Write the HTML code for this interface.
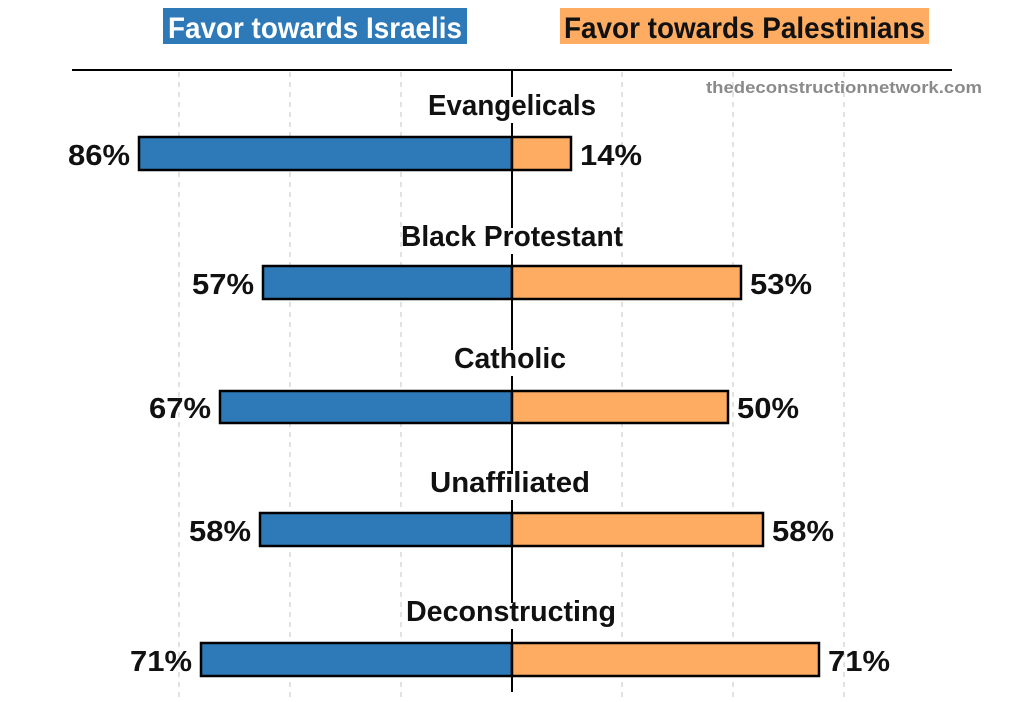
<!DOCTYPE html>
<html><head><meta charset="utf-8"><style>html,body{margin:0;padding:0;background:#fff}svg{display:block}</style></head>
<body>
<svg width="1024" height="702" viewBox="0 0 1024 702" xmlns="http://www.w3.org/2000/svg" font-family="Liberation Sans, sans-serif" font-weight="bold">
<g stroke="#d8d8d8" stroke-width="1.5" stroke-dasharray="5,5">
<line x1="179" y1="72" x2="179" y2="700"/><line x1="290" y1="72" x2="290" y2="700"/><line x1="401" y1="72" x2="401" y2="700"/>
<line x1="622" y1="72" x2="622" y2="700"/><line x1="733" y1="72" x2="733" y2="700"/><line x1="844" y1="72" x2="844" y2="700"/>
</g>
<rect x="163" y="8" width="304" height="36" fill="#2e7ab8"/>
<text x="168" y="38" fill="#fff" font-size="30" textLength="294" lengthAdjust="spacingAndGlyphs">Favor towards Israelis</text>
<rect x="560" y="8" width="369" height="36" fill="#fdac62"/>
<text x="564" y="38" fill="#111" font-size="30" textLength="361" lengthAdjust="spacingAndGlyphs">Favor towards Palestinians</text>
<line x1="72" y1="70" x2="952" y2="70" stroke="#000" stroke-width="2"/>
<text x="706" y="93" fill="#8a8a8a" font-size="17" textLength="276" lengthAdjust="spacingAndGlyphs">thedeconstructionnetwork.com</text>
<g stroke="#000" stroke-width="2.5">
<rect x="139" y="137" width="373" height="33" fill="#2e7ab8"/><rect x="512" y="137" width="59" height="33" fill="#fdac62"/>
<rect x="263" y="266" width="249" height="33" fill="#2e7ab8"/><rect x="512" y="266" width="229" height="33" fill="#fdac62"/>
<rect x="220" y="391" width="292" height="32" fill="#2e7ab8"/><rect x="512" y="391" width="216" height="32" fill="#fdac62"/>
<rect x="260" y="513" width="252" height="33" fill="#2e7ab8"/><rect x="512" y="513" width="251" height="33" fill="#fdac62"/>
<rect x="201" y="643" width="311" height="33" fill="#2e7ab8"/><rect x="512" y="643" width="307" height="33" fill="#fdac62"/>
</g>
<line x1="512" y1="70" x2="512" y2="692" stroke="#000" stroke-width="2"/>
<g fill="#fff">
<rect x="500" y="97" width="24" height="26"/>
<rect x="500" y="228" width="24" height="26"/>
<rect x="500" y="350" width="24" height="26"/>
<rect x="500" y="474" width="24" height="26"/>
<rect x="500" y="603" width="24" height="26"/>
</g>
<g font-size="29" fill="#111" text-anchor="middle">
<text x="512" y="115" textLength="168" lengthAdjust="spacingAndGlyphs">Evangelicals</text>
<text x="512" y="246" textLength="222" lengthAdjust="spacingAndGlyphs">Black Protestant</text>
<text x="510" y="368" textLength="112" lengthAdjust="spacingAndGlyphs">Catholic</text>
<text x="510" y="492" textLength="160" lengthAdjust="spacingAndGlyphs">Unaffiliated</text>
<text x="511" y="621" textLength="210" lengthAdjust="spacingAndGlyphs">Deconstructing</text>
</g>
<g font-size="29" fill="#111">
<g text-anchor="end">
<text x="130" y="165" textLength="62" lengthAdjust="spacingAndGlyphs">86%</text>
<text x="254" y="294" textLength="62" lengthAdjust="spacingAndGlyphs">57%</text>
<text x="211" y="418" textLength="62" lengthAdjust="spacingAndGlyphs">67%</text>
<text x="251" y="541" textLength="62" lengthAdjust="spacingAndGlyphs">58%</text>
<text x="192" y="671" textLength="62" lengthAdjust="spacingAndGlyphs">71%</text>
</g>
<text x="580" y="165" textLength="62" lengthAdjust="spacingAndGlyphs">14%</text>
<text x="750" y="294" textLength="62" lengthAdjust="spacingAndGlyphs">53%</text>
<text x="737" y="418" textLength="62" lengthAdjust="spacingAndGlyphs">50%</text>
<text x="772" y="541" textLength="62" lengthAdjust="spacingAndGlyphs">58%</text>
<text x="828" y="671" textLength="62" lengthAdjust="spacingAndGlyphs">71%</text>
</g>
</svg>
</body></html>
